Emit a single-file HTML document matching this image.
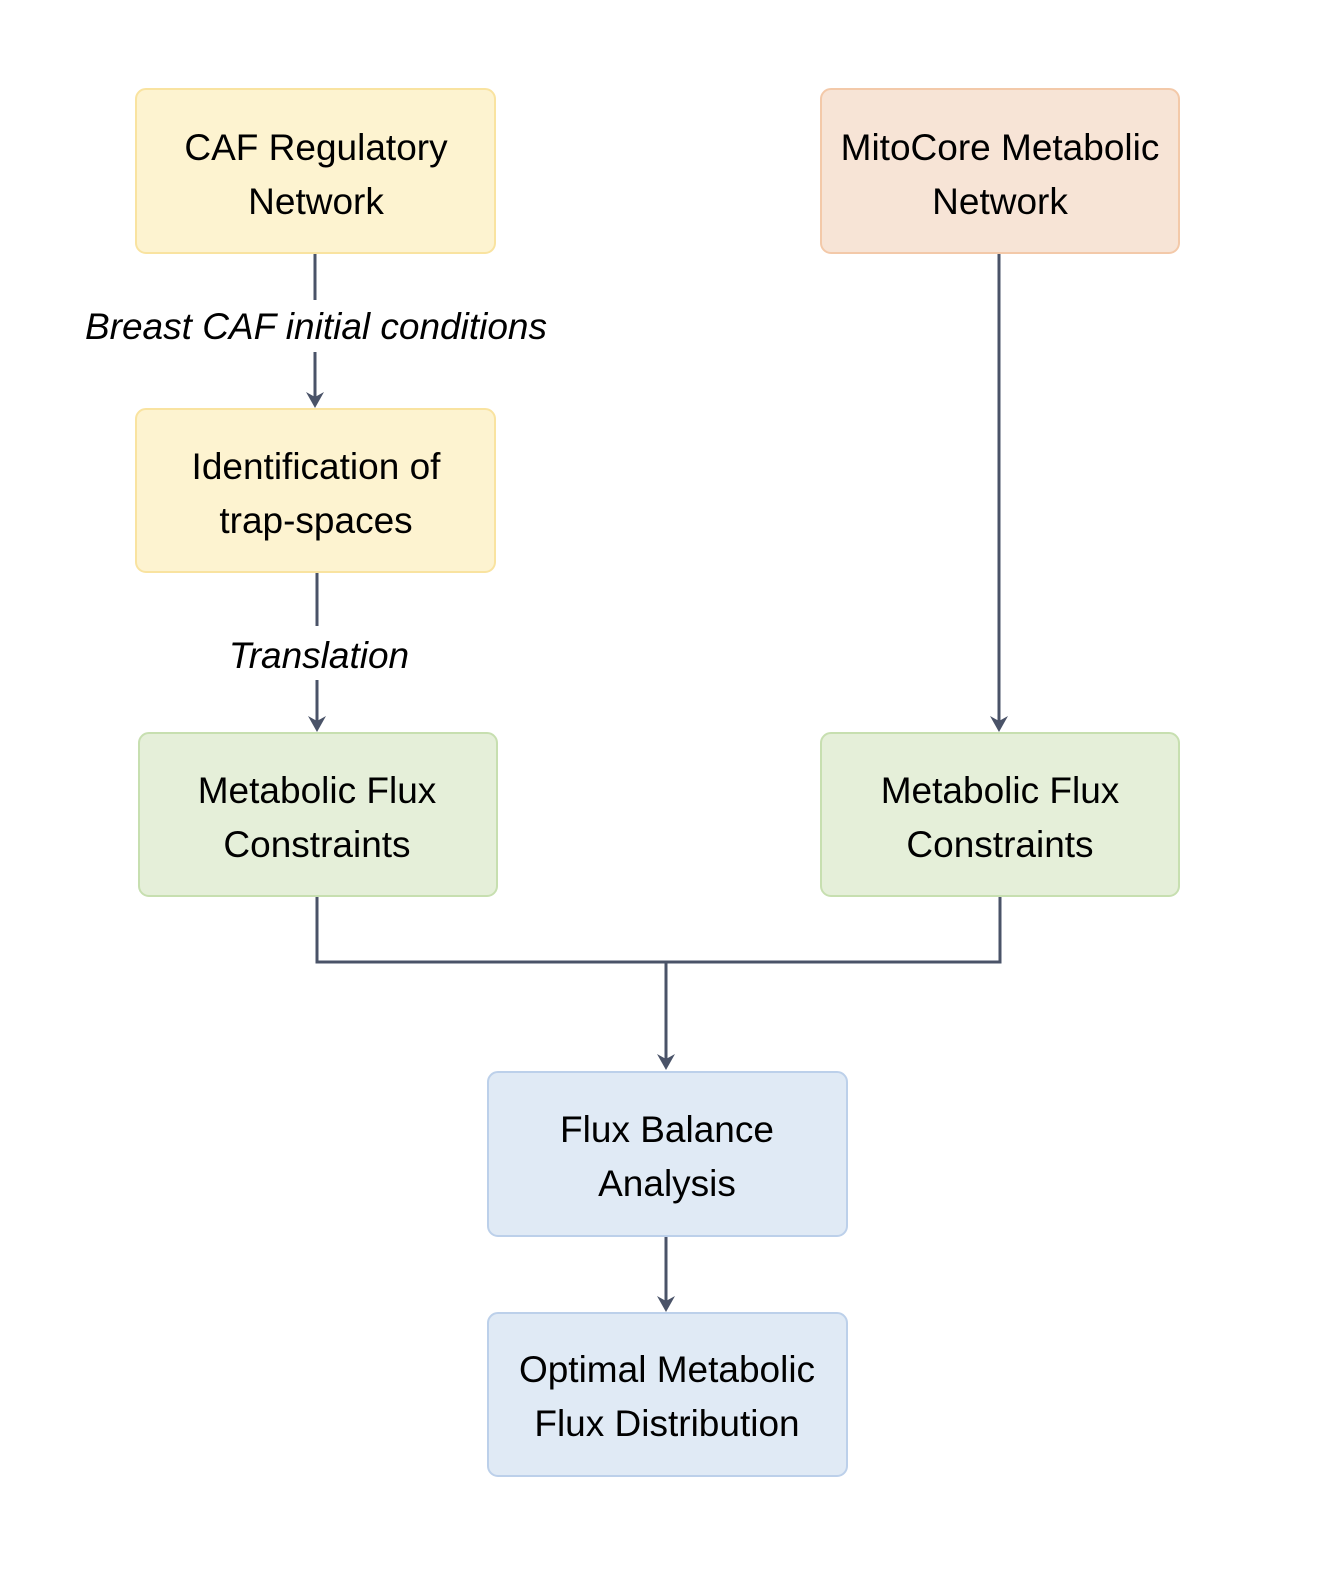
<!DOCTYPE html>
<html><head><meta charset="utf-8"><style>
body{margin:0;background:#fff;}
</style></head><body>
<svg width="1320" height="1564" xmlns="http://www.w3.org/2000/svg" font-family="Liberation Sans, Arial, sans-serif">
<g fill="none" stroke="#4a5368" stroke-width="3">
<line x1="315" y1="253" x2="315" y2="300"/>
<line x1="315" y1="352" x2="315" y2="400"/>
<line x1="317" y1="572" x2="317" y2="626"/>
<line x1="317" y1="680" x2="317" y2="724"/>
<line x1="999" y1="253" x2="999" y2="724"/>
<polyline points="317,896 317,962 1000,962 1000,896"/>
<line x1="666" y1="962" x2="666" y2="1062"/>
<line x1="666" y1="1236" x2="666" y2="1304"/>
</g>
<g fill="#4a5368">
<path d="M306,392 L315,408 L324,392 L315,397 Z"/>
<path d="M308,716 L317,732 L326,716 L317,721 Z"/>
<path d="M990,716 L999,732 L1008,716 L999,721 Z"/>
<path d="M657,1054 L666,1070 L675,1054 L666,1059 Z"/>
<path d="M657,1296 L666,1312 L675,1296 L666,1301 Z"/>
</g>
<g stroke-width="2">
<rect x="136" y="89" width="359" height="164" rx="10" fill="#fdf3d0" stroke="#f9e3a0"/>
<rect x="821" y="89" width="358" height="164" rx="10" fill="#f7e4d6" stroke="#f3c9a9"/>
<rect x="136" y="409" width="359" height="163" rx="10" fill="#fdf3d0" stroke="#f9e3a0"/>
<rect x="139" y="733" width="358" height="163" rx="10" fill="#e5efd9" stroke="#c7dfb0"/>
<rect x="821" y="733" width="358" height="163" rx="10" fill="#e5efd9" stroke="#c7dfb0"/>
<rect x="488" y="1072" width="359" height="164" rx="10" fill="#e0eaf5" stroke="#bcd0ea"/>
<rect x="488" y="1313" width="359" height="163" rx="10" fill="#e0eaf5" stroke="#bcd0ea"/>
</g>
<g font-size="37" text-anchor="middle" fill="#000">
<text x="316" y="160">CAF Regulatory</text><text x="316" y="214">Network</text>
<text x="1000" y="160">MitoCore Metabolic</text><text x="1000" y="214">Network</text>
<text x="316" y="479">Identification of</text><text x="316" y="533">trap-spaces</text>
<text x="317" y="803">Metabolic Flux</text><text x="317" y="857">Constraints</text>
<text x="1000" y="803">Metabolic Flux</text><text x="1000" y="857">Constraints</text>
<text x="667" y="1142">Flux Balance</text><text x="667" y="1196">Analysis</text>
<text x="667" y="1382">Optimal Metabolic</text><text x="667" y="1436">Flux Distribution</text>
<text x="316" y="339" font-style="italic">Breast CAF initial conditions</text>
<text x="319" y="668" font-style="italic">Translation</text>
</g>
</svg>
</body></html>
